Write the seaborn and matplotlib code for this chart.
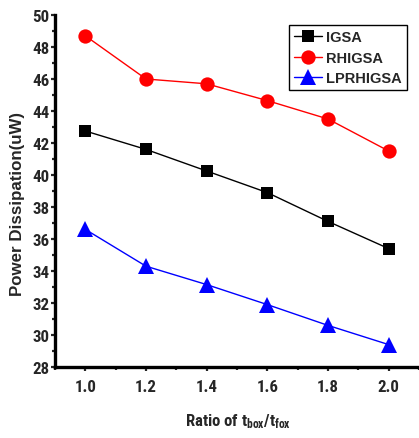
import matplotlib
matplotlib.use("Agg")
import matplotlib.pyplot as plt
from matplotlib.ticker import MultipleLocator
import seaborn as sns
import pandas as pd

ratio = [1.0, 1.2, 1.4, 1.6, 1.8, 2.0]
igsa = [42.75, 41.6, 40.25, 38.9, 37.1, 35.4]
rhigsa = [48.7, 46.0, 45.7, 44.65, 43.5, 41.5]
lprhigsa = [36.6, 34.3, 33.15, 31.9, 30.6, 29.4]
series_names = ["IGSA", "RHIGSA", "LPRHIGSA"]

df = pd.concat([
    pd.DataFrame({"ratio": ratio, "power": vals, "series": name})
    for name, vals in zip(series_names, [igsa, rhigsa, lprhigsa])
])

sns.set_style("ticks")
NARROW = ["Roboto Condensed", "Liberation Sans", "DejaVu Sans"]
WIDE = ["Liberation Sans", "DejaVu Sans"]
plt.rcParams["font.family"] = NARROW
plt.rcParams["font.weight"] = "bold"
plt.rcParams["mathtext.fontset"] = "custom"
plt.rcParams["mathtext.rm"] = "Roboto Condensed:bold"
plt.rcParams["mathtext.bf"] = "Roboto Condensed:bold"
plt.rcParams["mathtext.it"] = "Roboto Condensed:bold"

W, H = 419, 439
fig = plt.figure(figsize=(W / 100, H / 100), dpi=100)
ax = fig.add_axes([55 / W, 1 - 368 / H, 1 - 55 / W, (368 - 16) / H])

palette = {"IGSA": "black", "RHIGSA": "red", "LPRHIGSA": "blue"}
markers = {"IGSA": "s", "RHIGSA": "o", "LPRHIGSA": "^"}
msize = {"IGSA": 8.6, "RHIGSA": 10.3, "LPRHIGSA": 12}
sns.lineplot(data=df, x="ratio", y="power", hue="series", style="series",
             palette=palette, markers=markers, dashes=False, linewidth=1,
             markeredgewidth=0, legend=False, ax=ax)
for line, name in zip(ax.lines, series_names):
    line.set_markersize(msize[name])

ax.set_xlim(0.9, 2.1)
ax.set_ylim(28, 50)
ax.xaxis.set_major_locator(MultipleLocator(0.2))
ax.xaxis.set_minor_locator(MultipleLocator(0.1))
ax.yaxis.set_major_locator(MultipleLocator(2))
ax.yaxis.set_minor_locator(MultipleLocator(1))
ax.xaxis.set_major_formatter(plt.FuncFormatter(lambda v, p: f"{v:.1f}"))
ax.yaxis.set_major_formatter(plt.FuncFormatter(lambda v, p: f"{v:.0f}"))

for side in ["top", "right"]:
    ax.spines[side].set_visible(False)
for side in ["left", "bottom"]:
    ax.spines[side].set_linewidth(2.4)
    ax.spines[side].set_color("black")
ax.tick_params(which="major", length=3, width=1.6, labelsize=12.2)
ax.tick_params(axis="y", which="major", pad=1)
ax.tick_params(axis="x", which="major", pad=6)
ax.tick_params(which="minor", length=2, width=1.6)
for lbl in ax.get_xticklabels() + ax.get_yticklabels():
    lbl.set_fontweight("bold")

ax.set_xlabel("Ratio of t$_{\\mathbf{box}}$/t$_{\\mathbf{fox}}$", fontsize=12,
              fontweight="bold")
ax.xaxis.set_label_coords((238.5 - 55) / (W - 55), (368 - 412) / 352)
ax.set_ylabel("Power Dissipation(uW)", fontsize=12.2, fontweight="bold",
              family=WIDE)
ax.yaxis.set_label_coords((25 - 55) / (W - 55), (368 - 203.5) / 352)

leg = ax.legend(handles=list(ax.lines), labels=series_names, loc="upper left",
                bbox_to_anchor=(289 / W, 1 - 26 / H), bbox_transform=fig.transFigure,
                borderaxespad=0, frameon=True, fancybox=False, edgecolor="black",
                prop={"family": WIDE, "weight": "bold", "size": 10.5},
                handlelength=1.9, handletextpad=0.3, borderpad=0.35,
                labelspacing=0.45)
leg.get_frame().set_linewidth(1)
leg.get_frame().set_alpha(None)
leg.get_frame().set_facecolor("white")

fig.savefig("out.png", dpi=100)
